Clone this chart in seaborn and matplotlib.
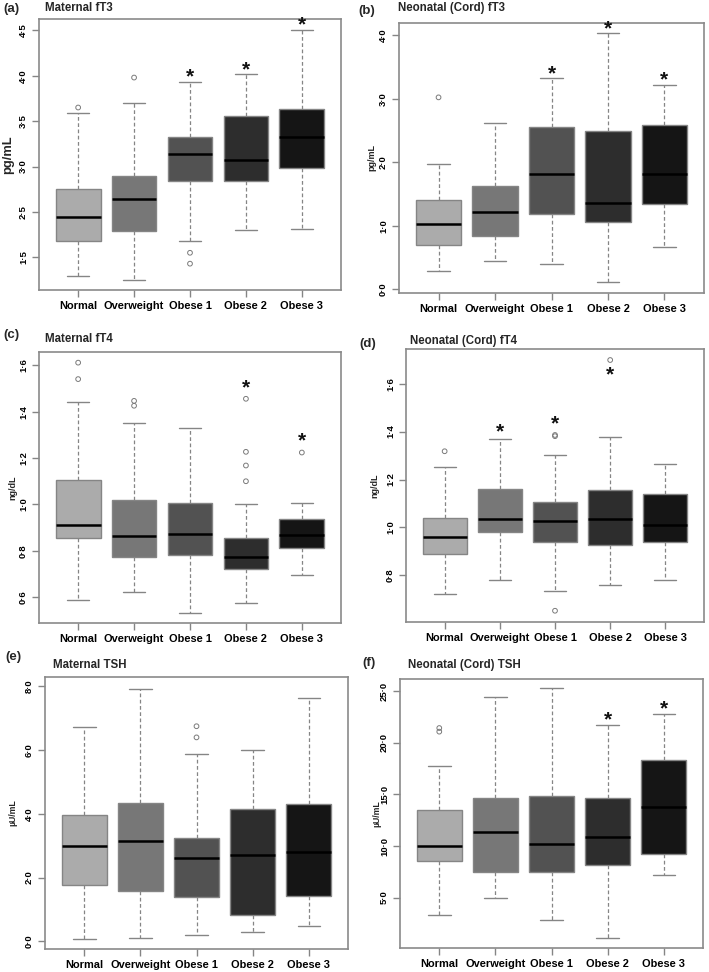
import numpy as np
import pandas as pd
import seaborn as sns
import matplotlib.pyplot as plt

groups = ["Normal", "Overweight", "Obese 1", "Obese 2", "Obese 3"]
fills = ["#ababab", "#777777", "#525252", "#2d2d2d", "#151515"]

# (a) maternal fT3
a_lo = [1.79, 1.75, 2.18, 2.30, 2.31]
a_q1 = [2.18, 2.29, 2.84, 2.84, 2.98]
a_med = [2.44, 2.64, 3.14, 3.07, 3.32]
a_q3 = [2.75, 2.90, 3.33, 3.56, 3.63]
a_hi = [3.59, 3.70, 3.93, 4.02, 4.50]
a_out_grp = ["Normal", "Overweight", "Obese 1", "Obese 1"]
a_out_val = [3.65, 3.98, 2.05, 1.93]
a_star_grp = ["Obese 1", "Obese 2", "Obese 3"]
a_star_val = [3.99, 4.07, 4.56]
a_ticks = [2.0, 2.5, 3.0, 3.5, 4.0, 4.5]
a_labels = ["1·5", "2·5", "3·0", "3·5", "4·0", "4·5"]

# (b) neonatal fT3
b_lo = [0.29, 0.44, 0.40, 0.11, 0.67]
b_q1 = [0.69, 0.84, 1.18, 1.06, 1.35]
b_med = [1.03, 1.21, 1.82, 1.36, 1.81]
b_q3 = [1.40, 1.62, 2.55, 2.49, 2.58]
b_hi = [1.97, 2.61, 3.33, 4.04, 3.22]
b_out_grp = ["Normal"]
b_out_val = [3.02]
b_star_grp = ["Obese 1", "Obese 2", "Obese 3"]
b_star_val = [3.40, 4.10, 3.30]
b_ticks = [0.0, 1.0, 2.0, 3.0, 4.0]
b_labels = ["0·0", "1·0", "2·0", "3·0", "4·0"]

# (c) maternal fT4
c_lo = [0.588, 0.623, 0.531, 0.574, 0.694]
c_q1 = [0.855, 0.771, 0.783, 0.722, 0.810]
c_med = [0.909, 0.862, 0.873, 0.771, 0.868]
c_q3 = [1.105, 1.017, 1.006, 0.856, 0.935]
c_hi = [1.443, 1.350, 1.331, 1.000, 1.006]
c_out_grp = ["Normal", "Normal", "Overweight", "Overweight",
             "Obese 2", "Obese 2", "Obese 2", "Obese 2", "Obese 3"]
c_out_val = [1.612, 1.541, 1.447, 1.426, 1.456, 1.227, 1.168, 1.100, 1.224]
c_star_grp = ["Obese 2", "Obese 3"]
c_star_val = [1.505, 1.276]
c_ticks = [0.6, 0.8, 1.0, 1.2, 1.4, 1.6]
c_labels = ["0·6", "0·8", "1·0", "1·2", "1·4", "1·6"]

# (d) neonatal fT4
d_lo = [0.724, 0.779, 0.733, 0.759, 0.781]
d_q1 = [0.887, 0.979, 0.937, 0.927, 0.937]
d_med = [0.962, 1.035, 1.025, 1.035, 1.011]
d_q3 = [1.040, 1.159, 1.105, 1.155, 1.140]
d_hi = [1.251, 1.368, 1.304, 1.377, 1.264]
d_out_grp = ["Normal", "Obese 1", "Obese 1", "Obese 1", "Obese 2"]
d_out_val = [1.318, 1.386, 1.381, 0.652, 1.699]
d_star_grp = ["Overweight", "Obese 1", "Obese 2"]
d_star_val = [1.40, 1.435, 1.638]
d_ticks = [0.8, 1.0, 1.2, 1.4, 1.6]
d_labels = ["0·8", "1·0", "1·2", "1·4", "1·6"]

# (e) maternal TSH
e_lo = [0.08, 0.12, 0.19, 0.28, 0.48]
e_q1 = [1.77, 1.59, 1.39, 0.84, 1.43]
e_med = [3.00, 3.15, 2.62, 2.71, 2.79]
e_q3 = [3.98, 4.35, 3.25, 4.14, 4.31]
e_hi = [6.73, 7.93, 5.88, 6.02, 7.64]
e_out_grp = ["Obese 1", "Obese 1"]
e_out_val = [6.75, 6.40]
e_star_grp = []
e_star_val = []
e_ticks = [0.0, 2.0, 4.0, 6.0, 8.0]
e_labels = ["0·0", "2·0", "4·0", "6·0", "8·0"]

# (f) neonatal TSH
f_lo = [3.30, 4.92, 2.78, 1.07, 7.22]
f_q1 = [8.54, 7.48, 7.48, 8.12, 9.22]
f_med = [9.97, 11.33, 10.16, 10.84, 13.79]
f_q3 = [13.46, 14.63, 14.89, 14.63, 18.32]
f_hi = [17.73, 24.43, 25.34, 21.75, 22.85]
f_out_grp = ["Normal", "Normal"]
f_out_val = [21.45, 21.10]
f_star_grp = ["Obese 2", "Obese 3"]
f_star_val = [22.33, 23.40]
f_ticks = [5.0, 10.0, 15.0, 20.0, 25.0]
f_labels = ["5·0", "10·0", "15·0", "20·0", "25·0"]

sns.set_theme(style="white")
plt.rcParams["font.family"] = ["Liberation Sans", "DejaVu Sans"]

W, H = 709, 972
fig = plt.figure(figsize=(W / 100, H / 100), dpi=100)
edge = "#858585"


def panel(rect, lo, q1, med, q3, hi, out_grp, out_val, star_grp, star_val,
          ticks, labels, ylim, ylabel, ysize, ygap, tag, title, tag_xy, title_xy):
    l, t, r, b = rect
    ax = fig.add_axes([l / W, 1 - b / H, (r - l) / W, (b - t) / H])
    rows = []
    for i, g in enumerate(groups):
        for v in (lo[i], q1[i], med[i], q3[i], hi[i]):
            rows.append((g, v))
    df = pd.DataFrame(rows, columns=["group", "value"])
    sns.boxplot(data=df, x="group", y="value", hue="group", order=groups,
                hue_order=groups, palette=fills, legend=False, saturation=1,
                width=0.8, whis=(0, 100), showfliers=False, linecolor=edge,
                linewidth=1.0, ax=ax,
                medianprops=dict(color="black", linewidth=1.8),
                whiskerprops=dict(color=edge, linestyle=(0, (3, 2)), linewidth=0.9),
                capprops=dict(color=edge, linewidth=1.0))
    if out_val:
        odf = pd.DataFrame({"group": out_grp, "value": out_val})
        sns.stripplot(data=odf, x="group", y="value", order=groups, jitter=False,
                      color=edge, facecolor="none", edgecolor="#7a7a7a",
                      linewidth=0.7, size=3.4, ax=ax)
    # asterisk glyph sits high in its box, so anchor on the baseline and drop it
    for g, v in zip(star_grp, star_val):
        ax.annotate("*", (groups.index(g), v), xytext=(0, -4.3),
                    textcoords="offset points", ha="center", va="baseline",
                    fontsize=15, fontweight="bold", color="#111111")
    ax.set_xlim(-0.7, 4.7)
    ax.set_ylim(*ylim)
    ax.set_yticks(ticks)
    ax.set_yticklabels(labels, rotation=90, va="center", fontsize=6.8,
                       fontweight="bold")
    ax.set_xticks(range(len(groups)))
    ax.set_xticklabels(groups, fontsize=7.9, fontweight="bold")
    ax.set_xlabel("")
    ax.set_ylabel(ylabel, fontsize=ysize, fontweight="bold", va="center")
    ax.yaxis.set_label_coords(-ygap / (r - l), 0.5)
    ax.tick_params(axis="both", direction="out", length=5, width=1.0,
                   color=edge, labelcolor="black", bottom=True, left=True)
    ax.tick_params(axis="x", pad=3)
    ax.tick_params(axis="y", pad=3)
    for s in ax.spines.values():
        s.set_color("#8a8a8a")
        s.set_linewidth(1.2)
    fig.text(tag_xy[0] / W, 1 - tag_xy[1] / H, tag, fontsize=9.5,
             fontweight="bold", va="center", ha="left")
    fig.text(title_xy[0] / W, 1 - title_xy[1] / H, title, fontsize=8.3,
             fontweight="bold", va="center", ha="left")
    return ax


panel((39, 19, 341, 290), a_lo, a_q1, a_med, a_q3, a_hi, a_out_grp, a_out_val,
      a_star_grp, a_star_val, a_ticks, a_labels, (1.64, 4.625), "pg/mL", 9.3, 31,
      "(a)", "Maternal fT3", (3, 9), (45, 8))
panel((399, 23, 704, 293), b_lo, b_q1, b_med, b_q3, b_hi, b_out_grp, b_out_val,
      b_star_grp, b_star_val, b_ticks, b_labels, (-0.058, 4.19), "pg/mL", 6.5, 27,
      "(b)", "Neonatal (Cord) fT3", (358, 11), (398, 8))
panel((39, 352, 341, 623), c_lo, c_q1, c_med, c_q3, c_hi, c_out_grp, c_out_val,
      c_star_grp, c_star_val, c_ticks, c_labels, (0.488, 1.658), "ng/dL", 6.5, 26,
      "(c)", "Maternal fT4", (3, 335), (45, 339))
panel((406, 349, 704, 622), d_lo, d_q1, d_med, d_q3, d_hi, d_out_grp, d_out_val,
      d_star_grp, d_star_val, d_ticks, d_labels, (0.605, 1.745), "ng/dL", 6.5, 31,
      "(d)", "Neonatal (Cord) fT4", (359, 344), (410, 341))
panel((45, 677, 348, 949), e_lo, e_q1, e_med, e_q3, e_hi, e_out_grp, e_out_val,
      e_star_grp, e_star_val, e_ticks, e_labels, (-0.24, 8.295), "µU/mL", 6.3, 32,
      "(e)", "Maternal TSH", (5, 657), (53, 665))
panel((400, 679, 703, 948), f_lo, f_q1, f_med, f_q3, f_hi, f_out_grp, f_out_val,
      f_star_grp, f_star_val, f_ticks, f_labels, (0.1, 26.21), "µU/mL", 6.3, 23,
      "(f)", "Neonatal (Cord) TSH", (362, 663), (408, 665))

fig.savefig("out.png", dpi=100)
